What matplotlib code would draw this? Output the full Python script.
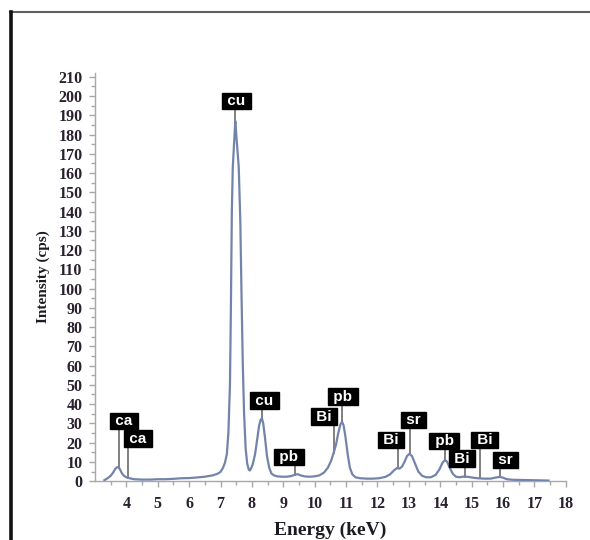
import numpy as np
from matplotlib import pyplot as plt
from matplotlib.lines import Line2D

# spectrum (keV, cps)
energy = [3.30, 3.40, 3.50, 3.58, 3.65, 3.72, 3.76, 3.80, 3.86, 3.92, 4.00, 4.10, 4.25, 4.50,
          4.75, 5.00, 5.25, 5.50, 5.75, 6.00, 6.25, 6.50, 6.75, 6.90, 7.00, 7.08, 7.14, 7.20,
          7.25, 7.30, 7.33, 7.36, 7.39, 7.44, 7.47, 7.51, 7.58, 7.63, 7.67, 7.71, 7.75, 7.80,
          7.85, 7.90, 7.93, 7.97, 8.03, 8.10, 8.17, 8.23, 8.28, 8.32, 8.36, 8.42, 8.48,
          8.55, 8.62, 8.70, 8.80, 8.95, 9.10, 9.25, 9.38, 9.46, 9.55, 9.70, 9.85, 10.00, 10.15,
          10.30, 10.42, 10.52, 10.60, 10.68, 10.75, 10.82, 10.87, 10.92, 10.98, 11.05, 11.12,
          11.20, 11.30, 11.45, 11.65, 11.85, 12.05, 12.25, 12.40, 12.52, 12.62, 12.70, 12.78,
          12.86, 12.94, 13.02, 13.10, 13.20, 13.30, 13.42, 13.55, 13.70, 13.85, 13.97, 14.07,
          14.15, 14.22, 14.30, 14.40, 14.50, 14.62, 14.75, 14.85, 15.00, 15.20, 15.40, 15.60,
          15.75, 15.88, 16.00, 16.12, 16.30, 16.60, 16.90, 17.20, 17.45]
intensity = [0.5, 1.5, 2.8, 4.5, 6.5, 7.3, 7.2, 6.0, 4.0, 2.8, 2.0, 1.5, 1.0, 0.8,
             0.8, 1.0, 1.0, 1.2, 1.5, 1.6, 1.9, 2.3, 3.0, 3.8, 4.8, 7.0, 9.5, 14,
             25, 50, 90, 140, 163, 178, 187, 178, 163, 135, 95, 60, 35, 17,
             9, 6, 5.5, 6.5, 9, 14, 22, 29, 32, 32.5, 30, 22, 13,
             7, 4, 3, 2.5, 2.3, 2.3, 2.6, 3.4, 3.6, 3.0, 2.4, 2.3, 2.5, 3.0,
             4.5, 7, 10.5, 14.5, 19, 25, 29.5, 30.8, 29, 23, 14, 7,
             3.5, 2.0, 1.5, 1.3, 1.3, 1.5, 2.2, 3.5, 5.5, 6.8, 6.5, 7.5,
             10, 13, 14.2, 13, 9, 5, 2.8, 2.0, 2.0, 3.2, 6, 9.5,
             11, 10, 7, 3.8, 2.3, 2.0, 2.4, 2.3, 1.9, 1.5, 1.3, 1.3,
             1.8, 2.2, 1.8, 1.0, 0.7, 0.6, 0.5, 0.4, 0.3]

# peak labels: name, box position (keV, cps), marker line position (keV)
label_names = ['ca', 'ca', 'cu', 'cu', 'pb', 'Bi', 'pb', 'Bi', 'sr', 'pb', 'Bi', 'Bi', 'sr']
label_x = [3.93, 4.36, 7.51, 8.40, 9.17, 10.29, 10.90, 12.43, 13.14, 14.13, 14.69, 15.41, 16.08]
label_y = [31.2, 22.1, 197.5, 41.8, 12.5, 33.5, 43.9, 21.3, 31.7, 20.8, 11.7, 21.3, 10.9]
line_x = [3.77, 4.06, 7.47, 8.32, 9.36, 10.60, 10.87, 12.65, 13.04, 14.16, 14.80, 15.28, 15.91]

fig = plt.figure(figsize=(5.9, 5.4), dpi=100)
ax = fig.add_axes([0.161, 0.109, 0.798, 0.756])

ax.plot(energy, intensity, color='#7384ab', lw=1.6, zorder=3)

for name, bx, by, lx in zip(label_names, label_x, label_y, line_x):
    ly = np.interp(lx, energy, intensity)
    ax.plot([lx, lx], [ly, by], color='#808080', lw=1.4, zorder=2)
    ax.text(bx, by, ' ' + name + ' ', ha='center', va='center', fontsize=11,
            fontweight='bold', color='white', family='Liberation Sans', zorder=5,
            bbox=dict(boxstyle='square,pad=0.08', fc='black', ec='black'))

ax.set_xlim(3, 18)
ax.set_ylim(0, 212)
ax.set_xticks(range(4, 19))
ax.set_xticks(np.arange(3.5, 18.01, 0.5), minor=True)
ax.set_yticks(range(0, 211, 10))
ax.set_yticks(range(5, 211, 10), minor=True)

for s in ['top', 'right']:
    ax.spines[s].set_visible(False)
for s in ['left', 'bottom']:
    ax.spines[s].set_color('#a8a8a8')
    ax.spines[s].set_linewidth(1.0)

ax.tick_params(which='both', color='#a8a8a8', width=1.0)
ax.tick_params(which='major', length=4)
ax.tick_params(which='minor', length=3)
ax.tick_params(axis='x', pad=7)
ax.tick_params(axis='y', pad=5)
for lab in ax.get_xticklabels() + ax.get_yticklabels():
    lab.set_family('Liberation Serif')
    lab.set_fontweight('bold')
    lab.set_fontsize(11.5)
    lab.set_color('#2a2030')

ax.set_xlabel('Energy (keV)', family='Liberation Serif', fontweight='bold',
              fontsize=14, color='#1e1a24', labelpad=7)
ax.set_ylabel('Intensity (cps)', family='Liberation Serif', fontweight='bold',
              fontsize=11, color='#1e1a24', labelpad=6)

# screenshot frame
fig.add_artist(Line2D([10 / 590, 1], [1 - 12 / 540, 1 - 12 / 540],
                      transform=fig.transFigure, color='#606060', lw=1.5))
fig.add_artist(Line2D([11 / 590, 11 / 590], [0, 1 - 12 / 540],
                      transform=fig.transFigure, color='#111111', lw=2.6))

fig.savefig('out.png', dpi=100)
